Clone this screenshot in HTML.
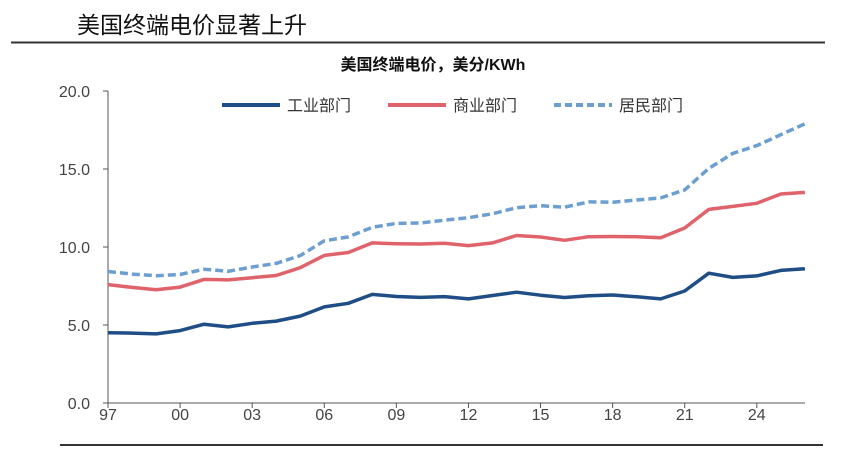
<!DOCTYPE html>
<html><head><meta charset="utf-8"><style>
body{margin:0;background:#fff;width:865px;height:447px;overflow:hidden;font-family:"Liberation Sans","Noto Sans CJK SC",sans-serif}
</style></head><body>
<svg id="s" width="865" height="447" xmlns="http://www.w3.org/2000/svg" font-family="Liberation Sans, Noto Sans CJK SC, sans-serif">
<text x="77" y="33" font-size="23" fill="#111">美国终端电价显著上升</text>
<line x1="11" y1="42.5" x2="825" y2="42.5" stroke="#333" stroke-width="2"/>
<text x="433" y="70" font-size="16" font-weight="bold" text-anchor="middle" fill="#111">美国终端电价，美分/KWh</text>
<line x1="222" y1="105" x2="280" y2="105" stroke="#1f4e86" stroke-width="4"/>
<text x="287" y="111" font-size="16" fill="#333">工业部门</text>
<line x1="388" y1="105" x2="446" y2="105" stroke="#e0636b" stroke-width="4"/>
<text x="453" y="111" font-size="16" fill="#333">商业部门</text>
<line x1="554" y1="105" x2="612" y2="105" stroke="#6d9ed0" stroke-width="4" stroke-dasharray="7,4"/>
<text x="619" y="111" font-size="16" fill="#333">居民部门</text>
<line x1="108" y1="91" x2="108" y2="403" stroke="#555" stroke-width="1"/>
<line x1="108" y1="403" x2="805" y2="403" stroke="#555" stroke-width="1"/>
<line x1="60" y1="445" x2="823" y2="445" stroke="#333" stroke-width="2"/>
<g id="g"></g>
</svg>
<script>
var ns="http://www.w3.org/2000/svg",s=document.getElementById('g');
function el(t,a,txt){var e=document.createElementNS(ns,t);for(var k in a)e.setAttribute(k,a[k]);if(txt!=null)e.textContent=txt;s.appendChild(e);return e;}
function X(i){return 108+i*24.03;}function Y(v){return 403-v*15.6;}
for(var k=0;k<=4;k++){var y=Y(k*5);el('line',{x1:103,y1:y,x2:108,y2:y,stroke:'#555'});el('text',{x:90,y:y+6,'font-size':16,'text-anchor':'end',fill:'#444'},(k*5).toFixed(1));}
var lab=['97','00','03','06','09','12','15','18','21','24'];
for(var k=0;k<10;k++){var x=X(k*3);el('line',{x1:x,y1:403,x2:x,y2:408,stroke:'#555'});el('text',{x:x,y:420,'font-size':16,'text-anchor':'middle',fill:'#444'},lab[k]);}
var ind=[4.5,4.48,4.43,4.64,5.05,4.88,5.11,5.25,5.57,6.16,6.39,6.96,6.83,6.77,6.82,6.67,6.89,7.1,6.91,6.76,6.88,6.92,6.81,6.67,7.18,8.32,8.05,8.15,8.5,8.6];
var com=[7.59,7.41,7.26,7.43,7.92,7.89,8.03,8.17,8.67,9.46,9.65,10.26,10.21,10.19,10.24,10.09,10.26,10.74,10.64,10.43,10.66,10.67,10.66,10.59,11.22,12.41,12.6,12.8,13.4,13.5];
var res=[8.43,8.26,8.16,8.24,8.58,8.44,8.72,8.95,9.45,10.4,10.65,11.26,11.51,11.54,11.72,11.88,12.13,12.52,12.65,12.55,12.89,12.87,13.01,13.15,13.66,15.04,16.0,16.5,17.2,17.9];
function pl(d,c,da){el('polyline',{points:d.map(function(v,i){return X(i).toFixed(1)+','+Y(v).toFixed(1)}).join(' '),fill:'none',stroke:c,'stroke-width':3.5,'stroke-linejoin':'round','stroke-dasharray':da||'none'});}
pl(res,'#6d9ed0','8,4');pl(com,'#e0636b');pl(ind,'#1f4e86');
</script>
</body></html>
